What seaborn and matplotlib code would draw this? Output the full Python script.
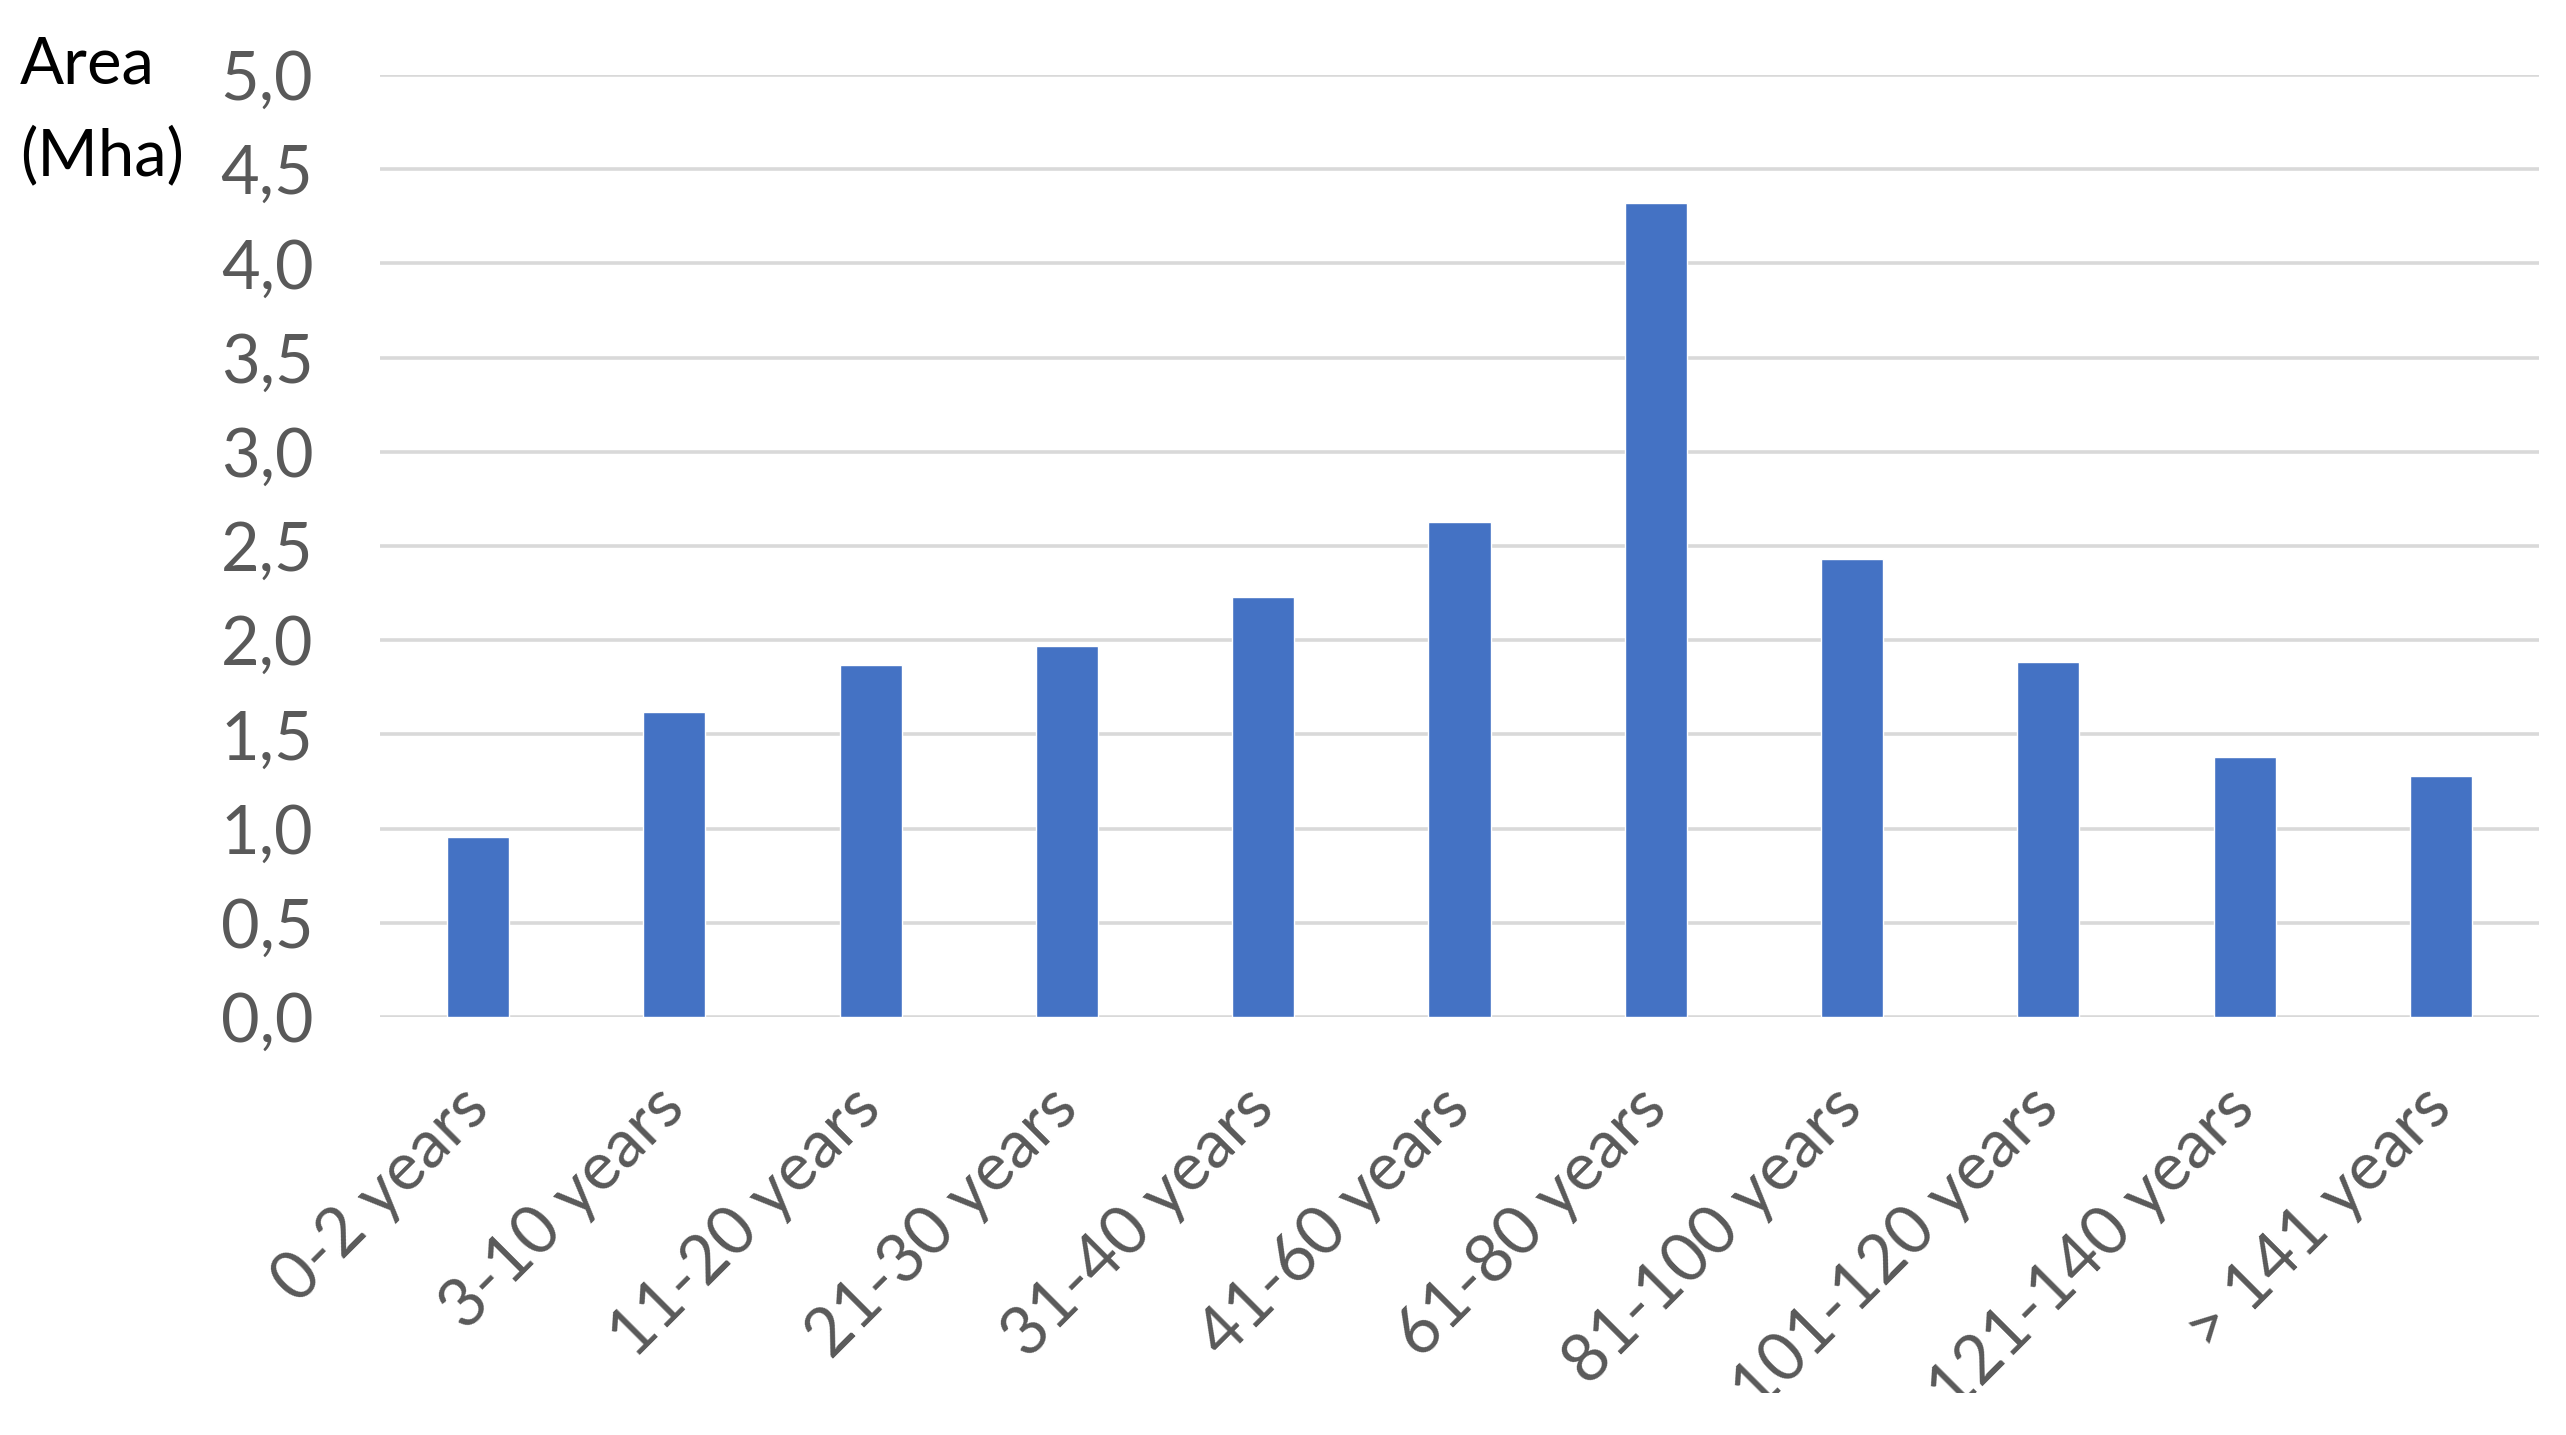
import matplotlib
matplotlib.use("Agg")
import matplotlib.pyplot as plt
import matplotlib.patches as mpatches
import seaborn as sns
import pandas as pd

categories = ["0-2 years", "3-10 years", "11-20 years", "21-30 years", "31-40 years",
              "41-60 years", "61-80 years", "81-100 years", "101-120 years",
              "121-140 years", "> 141 years"]
area_mha = [0.955, 1.62, 1.87, 1.97, 2.23, 2.63, 4.32, 2.43, 1.885, 1.38, 1.28]
y_ticks = [0.0, 0.5, 1.0, 1.5, 2.0, 2.5, 3.0, 3.5, 4.0, 4.5, 5.0]
y_tick_labels = ["0,0", "0,5", "1,0", "1,5", "2,0", "2,5", "3,0", "3,5", "4,0", "4,5", "5,0"]

sns.set_theme(style="white")
plt.rcParams["font.family"] = ["Lato", "DejaVu Sans"]

df = pd.DataFrame({"category": categories, "area": area_mha})

fig = plt.figure(figsize=(25.66, 14.35), dpi=100)
ax = fig.add_axes([380 / 2566, 1 - 1017 / 1435, (2539 - 380) / 2566, (1017 - 75) / 1435])

sns.barplot(data=df, x="category", y="area", color="#4472C4", saturation=1,
            width=0.316, ax=ax, zorder=3)

ax.set_ylim(0, 5.0)
ax.set_xlim(-0.5, len(categories) - 0.5)
ax.set_yticks(y_ticks)
ax.set_yticklabels(y_tick_labels)
ax.grid(axis="y", color="#d9d9d9", linewidth=2.6, zorder=0)
ax.grid(axis="x", visible=False)
for s in ["top", "right", "left", "bottom"]:
    ax.spines[s].set_visible(False)
ax.set_xlabel("")
ax.set_ylabel("")
ax.tick_params(axis="y", length=0, pad=48, labelsize=48, labelcolor="#595959")
ax.tick_params(axis="x", length=0, pad=58, labelsize=48, labelcolor="#595959")
for lab in ax.get_xticklabels():
    lab.set_rotation(45)
    lab.set_ha("right")
    lab.set_va("center")
    lab.set_rotation_mode("anchor")

fig.text(20 / 2566, 1 - 36 / 1435, "Area\n(Mha)", ha="left", va="top",
         fontsize=47, color="black", linespacing=1.6)

# the reference image is cropped just below the rotated labels
fig.patches.append(mpatches.Rectangle((0, 0), 1, 42 / 1435, transform=fig.transFigure,
                                      facecolor="white", edgecolor="none", zorder=10))

fig.savefig("out.png", dpi=100, facecolor="white")
